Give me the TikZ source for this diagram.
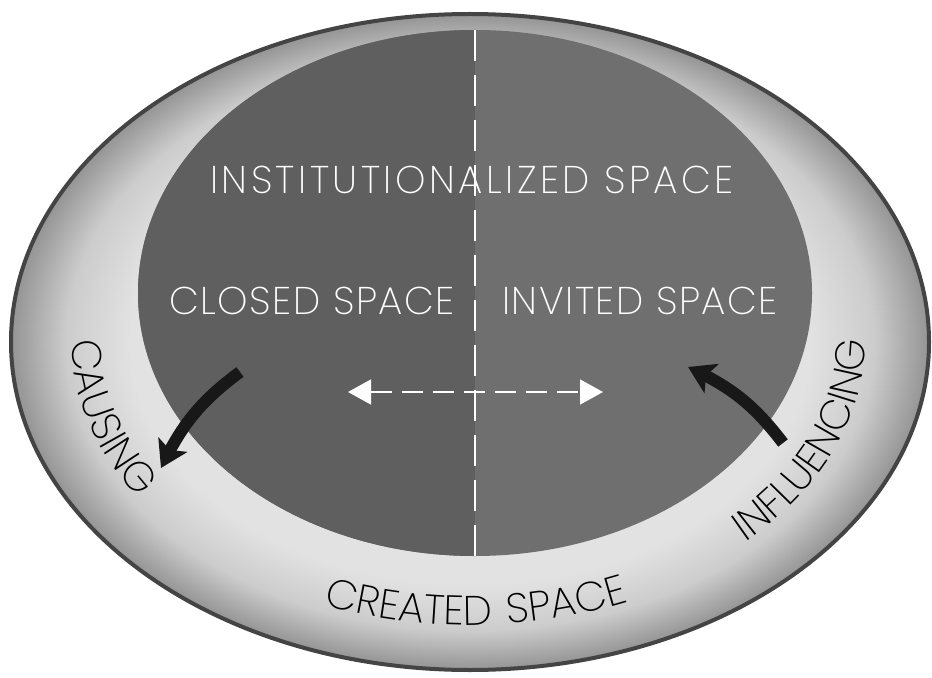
\documentclass[tikz,border=0pt]{standalone}
\usepackage{fontspec}
\setmainfont{Poppins}[UprightFont=* ExtraLight]
\usetikzlibrary{arrows.meta,bending,decorations.text}
\definecolor{spaceleft}{RGB}{95,95,95}
\definecolor{spaceright}{RGB}{111,111,111}
\definecolor{ringlight}{RGB}{226,226,226}
\definecolor{ringmid}{RGB}{204,204,204}
\definecolor{ringdark}{RGB}{148,148,148}
\definecolor{rimgray}{RGB}{68,68,68}
\definecolor{arrowink}{RGB}{24,24,24}
\pgfdeclareradialshading{ringshade}{\pgfpoint{0bp}{0bp}}{%
  color(0bp)=(ringlight); color(18.5bp)=(ringlight); color(22bp)=(ringmid);
  color(25bp)=(ringdark); color(50bp)=(ringdark)}
\newcommand\labelfont{\fontsize{23.5}{23.5}\selectfont\addfontfeatures{LetterSpace=8}}
\newcommand\spacefont{\fontsize{22}{22}\selectfont\addfontfeatures{LetterSpace=4}}

\begin{document}
\begin{tikzpicture}[x=0.02cm, y=0.02cm,
  inlabel/.style={text=white, font=\spacefont, inner sep=0pt},
  bigarrow/.style={draw=arrowink, line width=0.24cm,
    -{Stealth[length=0.52cm,width=0.64cm,inset=0.12cm]}},
  swaparrow/.style={draw=white, line width=0.03cm, dash pattern=on 0.42cm off 0.2cm,
    {Triangle[length=0.46cm,width=0.5cm]}-{Triangle[length=0.46cm,width=0.5cm]}},
  divider/.style={draw=white, line width=0.03cm, dash pattern=on 0.62cm off 0.28cm},
  ringtext/.style={decorate, decoration={text along path, text align=center,
    text={|\labelfont|#1}}}
]
\useasboundingbox (0,0) rectangle (932,677);

% outer ring: created space
\shade[shading=ringshade] (470,335) ellipse [x radius=459, y radius=328];
\draw[draw=rimgray, line width=0.08cm] (470,335) ellipse [x radius=459, y radius=328];

% institutionalized space, split in two halves
\fill[spaceright] (475,384) ellipse [x radius=337, y radius=263];
\begin{scope}
  \clip (475,384) ellipse [x radius=337, y radius=263];
  \fill[spaceleft] (120,100) rectangle (475,660);
\end{scope}

\coordinate (divtop) at (475,647);
\coordinate (divbot) at (475,121);
\draw[divider] (divtop) -- (divbot);

\node[inlabel, font=\spacefont\addfontfeatures{LetterSpace=9}] (inst) at (472,497) {INSTITUTIONALIZED SPACE};
\node[inlabel] (closed) at (312,376) {CLOSED SPACE};
\node[inlabel] (invited) at (640,376) {INVITED SPACE};

% two-way dashed arrow between closed and invited
\coordinate (swapleft) at (348,285);
\coordinate (swapright) at (603,285);
\draw[swaparrow] (swapleft) -- (swapright);

% black arrows across the boundary
\coordinate (causetail) at (240,305);
\coordinate (causetip) at (161,209);
\draw[bigarrow] (causetail) to[bend right=14] (causetip);
\coordinate (influtail) at (783,234);
\coordinate (influtip) at (688,310);
\draw[bigarrow] (influtail) to[bend right=14] (influtip);

% labels along the ring
\path[ringtext=CAUSING] (470,335) ++(171:398 and 283)
  arc[start angle=171, end angle=221, x radius=398, y radius=283];
\path[ringtext=CREATED SPACE] (470,335) ++(241:398 and 283)
  arc[start angle=241, end angle=301, x radius=398, y radius=283];
\path[ringtext=INFLUENCING, decoration={raise=0.06cm}] (470,335) ++(308:398 and 283)
  arc[start angle=308, end angle=368, x radius=398, y radius=283];
\end{tikzpicture}
\end{document}
